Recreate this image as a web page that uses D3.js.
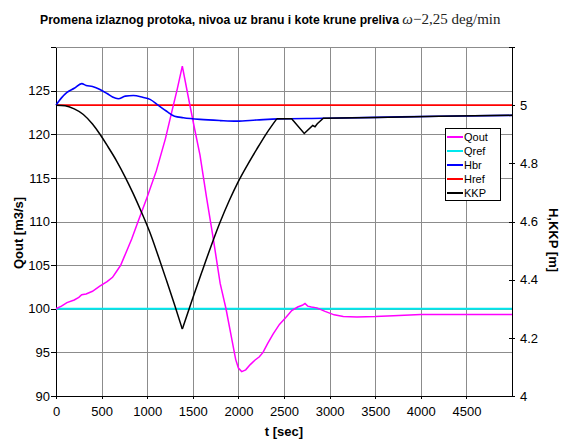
<!DOCTYPE html>
<html lang="sr">
  <head>
    <meta charset="utf-8">
    <title>Promena izlaznog protoka</title>
    <style>
      body { margin: 0; background: #fff; }
      text { font-family: "Liberation Sans", Arial, sans-serif; }
      .grid line { stroke: #8c8c8c; stroke-width: 1; shape-rendering: crispEdges; }
      .axis path, .axis line { stroke: #000; shape-rendering: crispEdges; }
      .axis text { font-size: 13px; fill: #000; }
    </style>
  </head>
  <body>
    <svg width="563" height="439"></svg>
  <script src="https://d3js.org/d3.v7.min.js"></script>
  <script>
  // values
  var xTicks = [0, 500, 1000, 1500, 2000, 2500, 3000, 3500, 4000, 4500];
  var qTicks = [90, 95, 100, 105, 110, 115, 120, 125];
  var hTicks = [4, 4.2, 4.4, 4.6, 4.8, 5];

  var qoutT = [0, 60, 120, 200, 250, 282, 330, 400, 480, 560, 620, 665, 710, 750, 790, 830, 900, 1000, 1100, 1200, 1268, 1330, 1385,
               1450, 1520, 1579, 1650, 1725, 1800, 1864, 1926, 1970, 2000, 2036, 2080, 2130, 2180, 2230, 2270, 2320, 2380, 2450,
               2520, 2585, 2650, 2700, 2730, 2760, 2800, 2860, 2950, 3050, 3150, 3300, 3500, 3700, 4000, 4500, 5000];
  var qoutV = [100, 100.3, 100.7, 101.0, 101.3, 101.6, 101.7, 102.0, 102.6, 103.1, 103.6, 104.3, 105.0, 106.0, 107.0, 108.0, 110.0, 112.8, 115.8, 119.5, 122.5, 125.2, 127.8,
               124.3, 120.6, 117.6, 112.8, 108.0, 102.9, 100.0, 96.6, 94.2, 93.2, 92.8, 93.0, 93.6, 94.1, 94.5, 95.0, 96.0, 97.1, 98.2,
               99.0, 99.8, 100.2, 100.4, 100.6, 100.3, 100.2, 100.1, 99.7, 99.3, 99.1, 99.05, 99.1, 99.2, 99.35, 99.35, 99.35];

  var qref = 100;
  var href = 5;

  var hbrT = [0, 60, 117, 200, 282, 330, 400, 482, 560, 620, 683, 760, 848, 950, 1031, 1120, 1213, 1300, 1396, 1579, 1800, 1981, 2200, 2438, 2931, 3500, 4200, 5000];
  var hbrV = [5.0, 5.025, 5.043, 5.058, 5.074, 5.068, 5.064, 5.054, 5.040, 5.028, 5.022, 5.031, 5.033, 5.027, 5.020, 5.000, 4.979, 4.962, 4.957, 4.951, 4.947, 4.945, 4.949, 4.953, 4.955, 4.958, 4.962, 4.965];

  // KKP: falling branch, rising branch, then the small dip and the tail
  var kkpDownT = [0, 100, 200, 300, 400, 482, 570, 665, 760, 848, 940, 1031, 1120, 1213, 1300, 1385];
  var kkpDownV = [5.0, 4.998, 4.987, 4.968, 4.935, 4.9, 4.857, 4.808, 4.752, 4.695, 4.63, 4.561, 4.482, 4.396, 4.314, 4.23];
  var kkpUpT = [1385, 1500, 1600, 1700, 1800, 1900, 2000, 2100, 2200, 2300, 2420];
  var kkpUpV = [4.23, 4.337, 4.427, 4.515, 4.598, 4.672, 4.738, 4.795, 4.848, 4.899, 4.953];
  var kkpTailT = [2420, 2584, 2722, 2815, 2840, 2865, 2931, 3500, 4200, 5000];
  var kkpTailV = [4.953, 4.953, 4.9025, 4.930, 4.926, 4.936, 4.955, 4.958, 4.962, 4.965];

  var legendNames = ["Qout", "Qref", "Hbr", "Href", "KKP"];
  var legendColors = ["#ff00ff", "#00e8ee", "#0000ff", "#ff0000", "#000000"];

  var svg = d3.select("svg");
  var margin = {left: 56, right: 51, top: 47, bottom: 43};
  var width = 563 - margin.left - margin.right,
      height = 439 - margin.top - margin.bottom;
  var g = svg.append("g").attr("transform", "translate(" + margin.left + "," + margin.top + ")");

  var x = d3.scaleLinear().domain([0, 5000]).range([0, width]);
  var yQ = d3.scaleLinear().domain([90, 130]).range([height, 0]);
  var yH = d3.scaleLinear().domain([4, 5.2]).range([height, 0]);

  // grid
  var grid = g.append("g").attr("class", "grid");
  grid.selectAll(".gx").data(xTicks.slice(1)).enter().append("line")
    .attr("x1", function(d) { return Math.round(x(d)) + 0.5; })
    .attr("x2", function(d) { return Math.round(x(d)) + 0.5; })
    .attr("y1", 0).attr("y2", height);
  grid.selectAll(".gy").data(qTicks.slice(1).concat([130])).enter().append("line")
    .attr("y1", function(d) { return Math.round(yQ(d)) + 0.5; })
    .attr("y2", function(d) { return Math.round(yQ(d)) + 0.5; })
    .attr("x1", 0).attr("x2", width);

  // axes
  var xAxis = g.append("g").attr("class", "axis").attr("transform", "translate(0," + height + ")")
    .call(d3.axisBottom(x).tickValues(xTicks).tickSize(3).tickSizeOuter(0).tickFormat(d3.format("d")));
  xAxis.selectAll("text").attr("dy", "1.1em");

  g.append("g").attr("class", "axis")
    .call(d3.axisLeft(yQ).tickValues(qTicks.concat([130])).tickSize(5).tickSizeOuter(0).tickPadding(1)
      .tickFormat(function(d) { return d === 130 ? "" : d; }));

  var yAxisR = g.append("g").attr("class", "axis").attr("transform", "translate(" + width + ",0)")
    .call(d3.axisRight(yH).tickValues(hTicks.concat([5.2])).tickSize(3).tickSizeOuter(0).tickPadding(5)
      .tickFormat(function(d) { return d === 5.2 ? "" : String(d); }));
  yAxisR.selectAll(".tick line").attr("x1", -3);

  // series
  var lineQ = d3.line().x(function(d) { return x(d[0]); }).y(function(d) { return yQ(d[1]); });
  var lineH = d3.line().x(function(d) { return x(d[0]); }).y(function(d) { return yH(d[1]); });
  var smoothH = d3.line().curve(d3.curveMonotoneX).x(function(d) { return x(d[0]); }).y(function(d) { return yH(d[1]); });
  function pairs(ts, vs) { return ts.map(function(t, i) { return [t, vs[i]]; }); }

  g.append("path").datum([[0, href], [5000, href]])
    .attr("fill", "none").attr("stroke", legendColors[3]).attr("stroke-width", 1.6).attr("d", lineH);
  g.append("path").datum([[0, qref], [5000, qref]])
    .attr("fill", "none").attr("stroke", legendColors[1]).attr("stroke-width", 2).attr("d", lineQ);
  g.append("path").datum(pairs(qoutT, qoutV))
    .attr("fill", "none").attr("stroke", legendColors[0]).attr("stroke-width", 1.5).attr("d", lineQ);
  g.append("path").datum(pairs(hbrT, hbrV))
    .attr("fill", "none").attr("stroke", legendColors[2]).attr("stroke-width", 1.6).attr("d", smoothH);

  g.append("path").datum(pairs(kkpDownT, kkpDownV))
    .attr("fill", "none").attr("stroke", legendColors[4]).attr("stroke-width", 1.5).attr("d", smoothH);
  g.append("path").datum(pairs(kkpUpT, kkpUpV))
    .attr("fill", "none").attr("stroke", legendColors[4]).attr("stroke-width", 1.5).attr("d", smoothH);
  g.append("path").datum(pairs(kkpTailT, kkpTailV))
    .attr("fill", "none").attr("stroke", legendColors[4]).attr("stroke-width", 1.5).attr("d", lineH);

  // legend
  var leg = svg.append("g").attr("transform", "translate(445,128)");
  leg.append("rect").attr("x", 0.5).attr("y", 0.5).attr("width", 55).attr("height", 72)
    .attr("fill", "#fff").attr("stroke", "#000");
  legendNames.forEach(function(n, i) {
    var yy = 9 + i * 14;
    leg.append("line").attr("x1", 2).attr("x2", 18).attr("y1", yy).attr("y2", yy)
      .attr("stroke", legendColors[i]).attr("stroke-width", 2);
    leg.append("text").attr("x", 19).attr("y", yy + 4).attr("font-size", 11).text(n);
  });

  // titles
  var title = svg.append("text").attr("x", 40).attr("y", 24);
  title.append("tspan").attr("font-weight", "bold").attr("font-size", 12.2)
    .text("Promena izlaznog protoka, nivoa uz branu i kote krune preliva ");
  title.append("tspan").attr("font-family", "'Liberation Serif', 'Times New Roman', serif").attr("font-size", 15)
    .attr("font-style", "italic").attr("fill", "#222").text("ω");
  title.append("tspan").attr("font-family", "'Liberation Serif', 'Times New Roman', serif").attr("font-size", 15)
    .attr("fill", "#222").text("−2,25 deg/min");

  svg.append("text").attr("x", margin.left + width / 2).attr("y", 436).attr("text-anchor", "middle")
    .attr("font-weight", "bold").attr("font-size", 13).text("t [sec]");

  svg.append("text").attr("transform", "translate(23,233) rotate(-90)").attr("text-anchor", "middle")
    .attr("font-weight", "bold").attr("font-size", 13).text("Qout [m3/s]");

  svg.append("text").attr("transform", "translate(549,240) rotate(90)").attr("text-anchor", "middle")
    .attr("font-weight", "bold").attr("font-size", 13).text("H,KKP [m]");
  </script>
  </body>
</html>
